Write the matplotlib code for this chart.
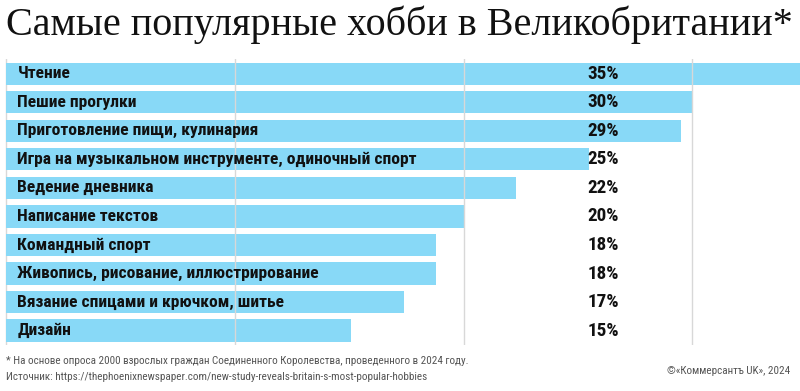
import numpy as np
from matplotlib import pyplot as plt
from matplotlib import font_manager

# data
hobbies = ["Чтение", "Пешие прогулки", "Приготовление пищи, кулинария",
           "Игра на музыкальном инструменте, одиночный спорт", "Ведение дневника",
           "Написание текстов", "Командный спорт", "Живопись, рисование, иллюстрирование",
           "Вязание спицами и крючком, шитье", "Дизайн"]
shares = [35.0, 30.0, 29.5, 25.5, 22.3, 20.0, 18.8, 18.8, 17.4, 15.1]
share_labels = ["35%", "30%", "29%", "25%", "22%", "20%", "18%", "18%", "17%", "15%"]

# pick a condensed sans if one is there, otherwise DejaVu Sans
bold_names = set(f.name for f in font_manager.fontManager.ttflist if f.weight in (700, 'bold'))
all_names = set(f.name for f in font_manager.fontManager.ttflist)
narrow = 'DejaVu Sans'
for cand in ['Roboto Condensed', 'PT Sans Narrow', 'Fira Sans Condensed',
             'Liberation Sans Narrow', 'Open Sans Condensed']:
    if cand in bold_names or cand in all_names:
        narrow = cand
        break
lbl_size = 12.6 if narrow != 'DejaVu Sans' else 10.5

fig = plt.figure(figsize=(8, 3.91), dpi=100)
ax = fig.add_axes([0.006, 0.118, 0.994, 0.73])

y = np.arange(len(hobbies))
ax.barh(y, shares, height=0.78, color='#88d9f7', zorder=1)
for xg in [10, 20, 30]:
    ax.axvline(xg, color='#d8d8d8', lw=1, zorder=2)
ax.axvline(0, color='#d8d8d8', lw=1, zorder=0)

for i in range(len(hobbies)):
    ax.text(0.5, y[i], hobbies[i], va='center', ha='left', fontsize=lbl_size,
            fontweight='bold', family=[narrow, 'DejaVu Sans'], color='#111111', zorder=3)
    ax.text(25.4, y[i], share_labels[i], va='center', ha='left', fontsize=lbl_size + 1.2,
            fontweight='bold', family=[narrow, 'DejaVu Sans'], color='#111111', zorder=3)

ax.set_xlim(-0.05, 34.7)
ax.set_ylim(len(hobbies) - 0.5, -0.5)
ax.axis('off')

fig.text(0.008, 0.985, "Самые популярные хобби в Великобритании*", va='top', ha='left',
         fontsize=28.9, family='Liberation Serif', color='#111111')
fig.text(0.008, 0.078, "* На основе опроса 2000 взрослых граждан Соединенного Королевства, проведенного в 2024 году.",
         va='center', ha='left', fontsize=8.0, family=[narrow, 'DejaVu Sans'], color='#555555')
fig.text(0.008, 0.035, "Источник: https://thephoenixnewspaper.com/new-study-reveals-britain-s-most-popular-hobbies",
         va='center', ha='left', fontsize=8.0, family=[narrow, 'DejaVu Sans'], color='#555555')
fig.text(0.988, 0.05, "©«Коммерсантъ UK», 2024", va='center', ha='right',
         fontsize=8.0, family=[narrow, 'DejaVu Sans'], color='#555555')

plt.savefig('out.png', dpi=100)
